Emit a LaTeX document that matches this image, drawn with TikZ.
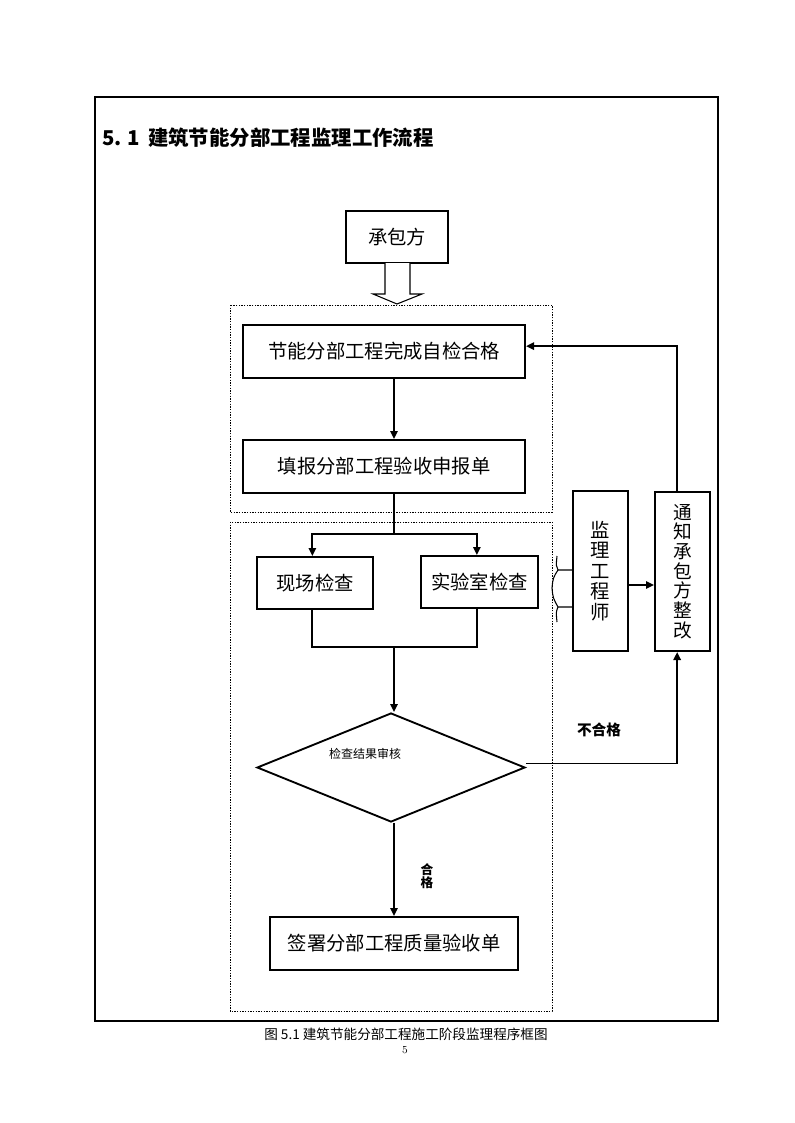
\documentclass[tikz,border=0pt]{standalone}
\usepackage{fontspec}
\newfontfamily\cjk{Noto Sans CJK SC}
\usetikzlibrary{shapes.geometric,arrows.meta,calc}
\begin{document}
\begin{tikzpicture}[x=0.75pt,y=-0.75pt,
  box/.style={draw,line width=1.5pt,inner sep=0pt,font=\cjk\fontsize{14.5}{17}\selectfont,align=center},
  conn/.style={line width=1.4pt},
  arr/.style={conn,-{Triangle[length=6pt,width=5.5pt]}},
  grp/.style={draw,line width=0.6pt,dash pattern=on 1pt off 1pt},
  lbl/.style={inner sep=0pt,font=\cjk}]
\useasboundingbox (0,0) rectangle (794,1123);
\fill[white] (0,0) rectangle (794,1123);
% outer frame
\draw[line width=0.8pt] (95,97) rectangle (718,1021);
% title
\node[lbl,anchor=west,font=\cjk\bfseries\fontsize{15.3}{18}\selectfont] (title) at (102,138) {5.\;1\, 建筑节能分部工程监理工作流程};
% groups
\draw[grp] (230,305) rectangle (552,512);
\draw[grp] (230,522) rectangle (552,1011);
% boxes
\node[box,minimum width=102*0.75pt,minimum height=52*0.75pt] (cb) at (397,237) {承包方};
\node[box,minimum width=282*0.75pt,minimum height=53*0.75pt] (n1) at (384,351.5) {节能分部工程完成自检合格};
\node[box,minimum width=282*0.75pt,minimum height=53*0.75pt] (n2) at (384,466.5) {填报分部工程验收申报单};
\node[box,minimum width=116*0.75pt,minimum height=52*0.75pt] (xc) at (315,583) {现场检查};
\node[box,minimum width=117*0.75pt,minimum height=52*0.75pt] (sy) at (479.5,582) {实验室检查};
\node[box,minimum width=248*0.75pt,minimum height=53*0.75pt] (qs) at (394,943.5) {签署分部工程质量验收单};
\node[box,minimum width=55*0.75pt,minimum height=160*0.75pt,font=\cjk\fontsize{14.5}{15.4}\selectfont] (jl) at (600.5,571) {监\\理\\工\\程\\师};
\node[box,minimum width=55*0.75pt,minimum height=159*0.75pt,font=\cjk\fontsize{14}{14.8}\selectfont] (tz) at (682.5,571.5) {通\\知\\承\\包\\方\\整\\改};
\node[diamond,draw,line width=1.4pt,inner sep=0pt,minimum width=268*0.75pt,minimum height=109*0.75pt] (dm) at (391,767.5) {};
\node[lbl,font=\cjk\fontsize{9}{10}\selectfont] (dt) at (365,754) {检查结果审核};
% hollow arrow
\draw[line width=0.8pt,fill=white] (385,263) -- (385,294) -- (373,294) -- (397,304) -- (422,294) -- (410,294) -- (410,263);
% connectors
\coordinate (cx) at (394,0);
\coordinate (sp) at (394,534);
\coordinate (mg) at (394,647);
\draw[arr] (n1.south -| cx) -- (n2.north -| cx);
\draw[conn] (n2.south -| cx) -- (sp);
\draw[arr] (sp) -| ([xshift=-2pt]xc.north);
\draw[arr] (sp) -| ([xshift=-2pt]sy.north);
\draw[conn] ([xshift=-2pt]xc.south) |- (mg);
\draw[conn] ([xshift=-2pt]sy.south) |- (mg);
\draw[arr] (mg) -- (dm.north -| cx);
\draw[arr] (dm.south -| cx) -- (qs.north -| cx);
\draw[arr] ([yshift=3pt]dm.east) -| ([xshift=-4pt]tz.south);
\draw[arr] ([xshift=-4pt]tz.north) |- ([yshift=4pt]n1.east);
\draw[arr] ([yshift=-10.5pt]jl.east) -- ([yshift=-10.5pt]jl.east -| tz.west);
% brace left of jl
\draw[line width=0.8pt] (573,570) -- (558,570) .. controls (556,566) .. (557,556);
\draw[line width=0.8pt] (558,570) .. controls (553,578) .. (552,588) .. controls (553,598) .. (558,607) -- (573,607);
\draw[line width=0.8pt] (558,607) .. controls (556,612) .. (557,622);
% labels
\node[lbl,font=\cjk\bfseries\fontsize{11}{12}\selectfont] (bhg) at (599,730) {不合格};
\node[lbl,font=\cjk\bfseries\fontsize{9.5}{10}\selectfont,align=center] (hg) at (427,876) {合\\格};
% caption
\node[lbl,font=\cjk\fontsize{10.2}{12}\selectfont] (cap) at (406,1034) {图 5.1 建筑节能分部工程施工阶段监理程序框图};
\node[inner sep=0pt,font=\fontsize{8}{9}\selectfont] (pg) at (405,1050) {5};
\end{tikzpicture}
\end{document}
